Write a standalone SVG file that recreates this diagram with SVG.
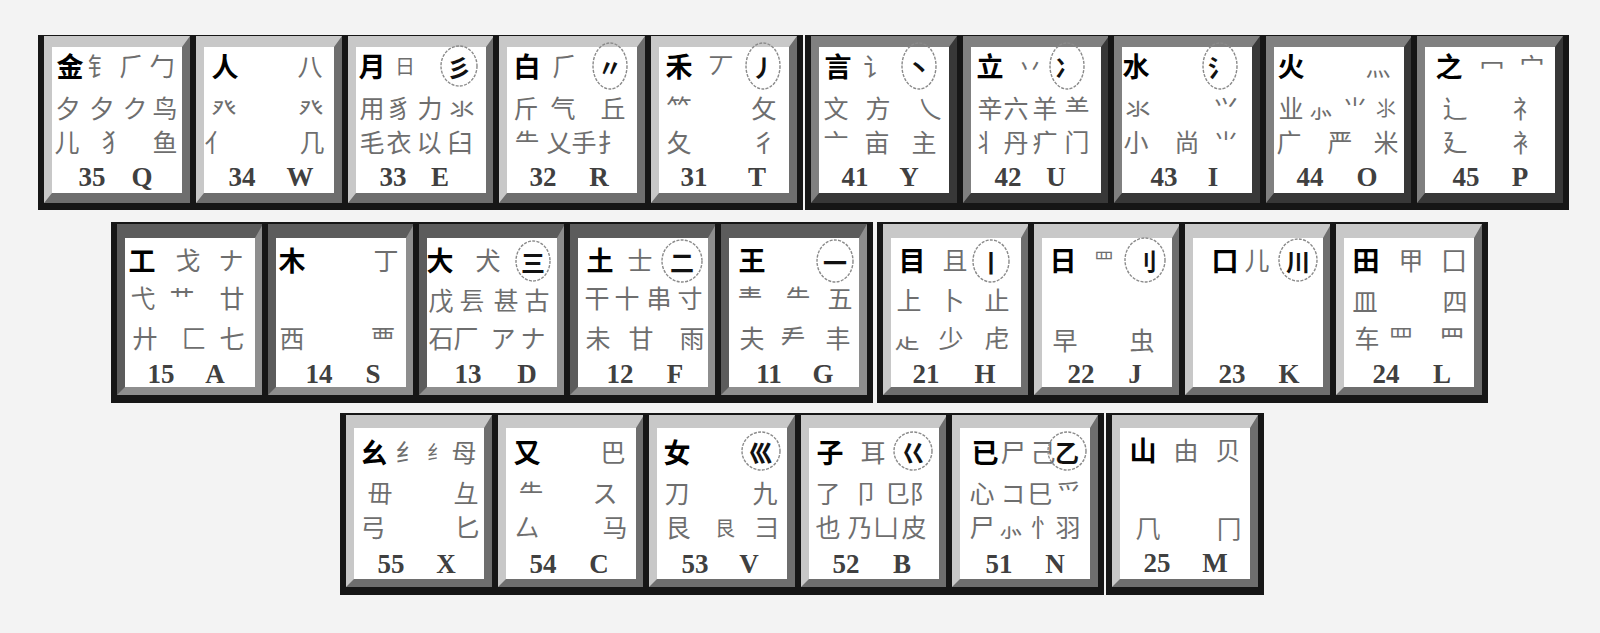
<svg xmlns="http://www.w3.org/2000/svg" xmlns:xlink="http://www.w3.org/1999/xlink" width="1600" height="633" viewBox="0 0 1600 633">
<style>
text{text-anchor:middle}
.m{font-family:"Noto Sans CJK SC",sans-serif;font-size:27px;font-weight:700;fill:#000;dominant-baseline:central}
.s{font-family:"Noto Sans CJK SC",sans-serif;font-size:25px;font-weight:400;fill:#6e6e6e;dominant-baseline:central}
.k{font-family:"Noto Sans CJK SC",sans-serif;font-size:24px;font-weight:700;fill:#111;dominant-baseline:central}
.n{font-family:"Liberation Serif",serif;font-size:27px;font-weight:700;fill:#404040}
.o{fill:none;stroke:#8a8a8a;stroke-width:1.4;stroke-dasharray:3 1.3}
.sm{font-size:20px}
</style>
<defs>
<g id="capR1"><rect width="158" height="175" fill="#161616"/><rect x="6" y="1" width="146" height="167" fill="#6e6e6e"/><polygon points="6,1 152,1 144,12 14,12 14,158 6,168" fill="#c8c8c8"/><rect x="14" y="12" width="130" height="146" fill="#fff"/></g>
<g id="capP1"><rect width="158" height="175" fill="#161616"/><rect x="6" y="1" width="146" height="167" fill="#383838"/><polygon points="6,1 152,1 144,12 14,12 14,158 6,168" fill="#808080"/><rect x="14" y="12" width="130" height="146" fill="#fff"/></g>
<g id="capP2"><rect width="158" height="181" fill="#161616"/><rect x="6" y="2" width="146" height="171" fill="#8e8e8e"/><polygon points="6,2 152,2 144,16 14,16 14,165 6,173" fill="#5c5c5c"/><rect x="14" y="16" width="130" height="149" fill="#fff"/></g>
<g id="capR2"><rect width="158" height="181" fill="#161616"/><rect x="6" y="2" width="146" height="171" fill="#6e6e6e"/><polygon points="6,2 152,2 144,16 14,16 14,165 6,173" fill="#c8c8c8"/><rect x="14" y="16" width="130" height="149" fill="#fff"/></g>
<g id="capR3"><rect width="158" height="182" fill="#161616"/><rect x="6" y="2" width="146" height="172" fill="#6e6e6e"/><polygon points="6,2 152,2 144,15 14,15 14,166 6,174" fill="#c8c8c8"/><rect x="14" y="15" width="130" height="151" fill="#fff"/></g>
</defs>
<rect width="1600" height="633" fill="#f3f3f3"/>

<!-- Row 1 -->
<g id="key-Q" transform="translate(38,35)"><use xlink:href="#capR1" href="#capR1"/>
<text class="m" x="32" y="30">金</text><text class="s" x="62" y="30">钅</text><text class="s" x="94" y="30">⺁</text><text class="s" x="124" y="30">勹</text>
<text class="s" x="30" y="72">夕</text><text class="s" x="64" y="72">夕</text><text class="s" x="97" y="72">ク</text><text class="s" x="127" y="72">鸟</text>
<text class="s" x="29" y="106">儿</text><text class="s" x="76" y="106">犭</text><text class="s" x="127" y="106">鱼</text>
<text class="n" x="54" y="151">35</text><text class="n" x="104" y="151">Q</text></g>

<g id="key-W" transform="translate(190,35)"><use xlink:href="#capR1" href="#capR1"/>
<text class="m" x="35" y="30">人</text><text class="s" x="120" y="30">八</text>
<text class="s" x="34" y="72">癶</text><text class="s" x="121" y="72">癶</text>
<text class="s" x="27" y="106">亻</text><text class="s" x="122" y="106">几</text>
<text class="n" x="52" y="151">34</text><text class="n" x="110" y="151">W</text></g>

<g id="key-E" transform="translate(342,35)"><use xlink:href="#capR1" href="#capR1"/>
<text class="m" x="30" y="30">月</text><text class="s sm" x="63" y="30">日</text>
<ellipse class="o" cx="117" cy="31" rx="18" ry="20"/><text class="k" x="117" y="31">彡</text>
<text class="s" x="30" y="72">用</text><text class="s" x="57" y="72">豸</text><text class="s" x="88" y="72">力</text><text class="s" x="120" y="72">氺</text>
<text class="s" x="30" y="106">毛</text><text class="s" x="57" y="106">衣</text><text class="s" x="87" y="106">以</text><text class="s" x="118" y="106">臼</text>
<text class="n" x="51" y="151">33</text><text class="n" x="98" y="151">E</text></g>

<g id="key-R" transform="translate(493,35)"><use xlink:href="#capR1" href="#capR1"/>
<text class="m" x="34" y="30">白</text><text class="s" x="72" y="30">⺁</text>
<ellipse class="o" cx="117" cy="31" rx="17" ry="23"/><text class="k" x="117" y="31">〃</text>
<text class="s" x="33" y="72">斤</text><text class="s" x="70" y="72">气</text><text class="s" x="120" y="72">丘</text>
<text class="s" x="34" y="106">⺧</text><text class="s" x="66" y="106">乂</text><text class="s" x="91" y="106">手</text><text class="s" x="117" y="106">扌</text>
<text class="n" x="50" y="151">32</text><text class="n" x="106" y="151">R</text></g>

<g id="key-T" transform="translate(645,35)"><use xlink:href="#capR1" href="#capR1"/>
<text class="m" x="34" y="30">禾</text><text class="s" x="76" y="30">丆</text>
<ellipse class="o" cx="118" cy="31" rx="17" ry="23"/><text class="k" x="118" y="31">丿</text>
<text class="s" x="34" y="72">⺮</text><text class="s" x="119" y="72">攵</text>
<text class="s" x="34" y="106">夂</text><text class="s" x="119" y="106">彳</text>
<text class="n" x="49" y="151">31</text><text class="n" x="112" y="151">T</text></g>

<g id="key-Y" transform="translate(805,35)"><use xlink:href="#capP1" href="#capP1"/>
<text class="m" x="33" y="30">言</text><text class="s" x="71" y="30">讠</text>
<ellipse class="o" cx="114" cy="31" rx="17" ry="23"/><text class="k" x="114" y="31">丶</text>
<text class="s" x="31" y="72">文</text><text class="s" x="73" y="72">方</text><text class="s" x="125" y="72">乀</text>
<text class="s" x="31" y="106">亠</text><text class="s" x="72" y="106">亩</text><text class="s" x="119" y="106">主</text>
<text class="n" x="50" y="151">41</text><text class="n" x="104" y="151">Y</text></g>

<g id="key-U" transform="translate(957,35)"><use xlink:href="#capP1" href="#capP1"/>
<text class="m" x="33" y="30">立</text><text class="s" x="73" y="30">丷</text>
<ellipse class="o" cx="110" cy="31" rx="17" ry="23"/><text class="k" x="110" y="31">冫</text>
<text class="s" x="33" y="72">辛</text><text class="s" x="59" y="72">六</text><text class="s" x="88" y="72">羊</text><text class="s" x="120" y="72">⺷</text>
<text class="s" x="28" y="106">丬</text><text class="s" x="59" y="106">丹</text><text class="s" x="88" y="106">疒</text><text class="s" x="120" y="106">门</text>
<text class="n" x="51" y="151">42</text><text class="n" x="99" y="151">U</text></g>

<g id="key-I" transform="translate(1108,35)"><use xlink:href="#capP1" href="#capP1"/>
<text class="m" x="28" y="30">水</text>
<ellipse class="o" cx="112" cy="31" rx="17" ry="23"/><text class="k" x="112" y="31">氵</text>
<text class="s" x="30" y="72">氺</text><text class="s" x="118" y="72">⺍</text>
<text class="s" x="28" y="106">小</text><text class="s" x="79" y="106">尚</text><text class="s" x="118" y="106">⺌</text>
<text class="n" x="56" y="151">43</text><text class="n" x="105" y="151">I</text></g>

<g id="key-O" transform="translate(1260,35)"><use xlink:href="#capP1" href="#capP1"/>
<text class="m" x="31" y="30">火</text><text class="s" x="118" y="30">灬</text>
<text class="s" x="31" y="72">业</text><text class="s" x="61" y="72">⺗</text><text class="s" x="95" y="72">⺌</text><text class="s sm" x="126" y="72">⺢</text>
<text class="s" x="29" y="106">广</text><text class="s" x="80" y="106">严</text><text class="s" x="126" y="106">米</text>
<text class="n" x="50" y="151">44</text><text class="n" x="107" y="151">O</text></g>

<g id="key-P" transform="translate(1411,35)"><use xlink:href="#capP1" href="#capP1"/>
<text class="m" x="38" y="30">之</text><text class="s" x="81" y="30">冖</text><text class="s" x="121" y="30">宀</text>
<text class="s" x="44" y="72">辶</text><text class="s" x="114" y="72">礻</text>
<text class="s" x="44" y="106">廴</text><text class="s" x="114" y="106">衤</text>
<text class="n" x="55" y="151">45</text><text class="n" x="109" y="151">P</text></g>

<!-- Row 2 -->
<g id="key-A" transform="translate(111,222)"><use xlink:href="#capP2" href="#capP2"/>
<text class="m" x="31" y="37">工</text><text class="s" x="77" y="37">戈</text><text class="s" x="120" y="37">ナ</text>
<text class="s" x="32" y="75">弋</text><text class="s" x="71" y="75">艹</text><text class="s" x="121" y="75">廿</text>
<text class="s" x="34" y="115">廾</text><text class="s" x="83" y="115">匚</text><text class="s" x="121" y="115">七</text>
<text class="n" x="50" y="161">15</text><text class="n" x="104" y="161">A</text></g>

<g id="key-S" transform="translate(262,222)"><use xlink:href="#capP2" href="#capP2"/>
<text class="m" x="30" y="37">木</text><text class="s" x="124" y="37">丁</text>
<text class="s" x="30" y="115">西</text><text class="s" x="121" y="115">覀</text>
<text class="n" x="57" y="161">14</text><text class="n" x="111" y="161">S</text></g>

<g id="key-D" transform="translate(413,222)"><use xlink:href="#capP2" href="#capP2"/>
<text class="m" x="27" y="37">大</text><text class="s" x="75" y="37">犬</text>
<ellipse class="o" cx="120" cy="39" rx="17" ry="20"/><text class="k" x="120" y="39">三</text>
<text class="s" x="28" y="77">戊</text><text class="s" x="59" y="77">镸</text><text class="s" x="93" y="77">甚</text><text class="s" x="124" y="77">古</text>
<text class="s" x="28" y="115">石</text><text class="s" x="53" y="115">厂</text><text class="s" x="90" y="115">ア</text><text class="s" x="120" y="115">ナ</text>
<text class="n" x="55" y="161">13</text><text class="n" x="114" y="161">D</text></g>

<g id="key-F" transform="translate(564,222)"><use xlink:href="#capP2" href="#capP2"/>
<text class="m" x="36" y="37">土</text><text class="s" x="76" y="37">士</text>
<ellipse class="o" cx="118" cy="39" rx="20" ry="21"/><text class="k" x="118" y="39">二</text>
<text class="s" x="33" y="75">干</text><text class="s" x="63" y="75">十</text><text class="s" x="95" y="75">串</text><text class="s" x="126" y="75">寸</text>
<text class="s" x="34" y="115">未</text><text class="s" x="77" y="115">甘</text><text class="s" x="128" y="115">雨</text>
<text class="n" x="56" y="161">12</text><text class="n" x="111" y="161">F</text></g>

<g id="key-G" transform="translate(715,222)"><use xlink:href="#capP2" href="#capP2"/>
<text class="m" x="37" y="37">王</text>
<ellipse class="o" cx="120" cy="39" rx="18" ry="21"/><text class="k" x="120" y="39">一</text>
<text class="s" x="35" y="75">龶</text><text class="s" x="83" y="75">⺧</text><text class="s" x="125" y="75">五</text>
<text class="s" x="37" y="115">夫</text><text class="s" x="78" y="115">龵</text><text class="s" x="123" y="115">丰</text>
<text class="n" x="54" y="161">11</text><text class="n" x="108" y="161">G</text></g>

<g id="key-H" transform="translate(877,222)"><use xlink:href="#capR2" href="#capR2"/>
<text class="m" x="35" y="37">目</text><text class="s" x="78" y="37">且</text>
<ellipse class="o" cx="114" cy="39" rx="18" ry="21"/><text class="k" x="114" y="39">丨</text>
<text class="s" x="32" y="77">上</text><text class="s" x="75" y="77">卜</text><text class="s" x="120" y="77">止</text>
<text class="s" x="30" y="115">龰</text><text class="s" x="74" y="115">少</text><text class="s" x="120" y="115">虍</text>
<text class="n" x="49" y="161">21</text><text class="n" x="108" y="161">H</text></g>

<g id="key-J" transform="translate(1028,222)"><use xlink:href="#capR2" href="#capR2"/>
<text class="m" x="35" y="37">日</text><text class="s sm" x="76" y="37">罒</text>
<ellipse class="o" cx="117" cy="38" rx="20" ry="22"/><text class="k" x="117" y="38">刂</text>
<text class="s" x="37" y="117">早</text><text class="s" x="114" y="117">虫</text>
<text class="n" x="53" y="161">22</text><text class="n" x="107" y="161">J</text></g>

<g id="key-K" transform="translate(1179,222)"><use xlink:href="#capR2" href="#capR2"/>
<text class="m" x="46" y="37">口</text><text class="s" x="78" y="37">儿</text>
<ellipse class="o" cx="119" cy="38" rx="19" ry="21"/><text class="k" x="119" y="38">川</text>
<text class="n" x="53" y="161">23</text><text class="n" x="110" y="161">K</text></g>

<g id="key-L" transform="translate(1330,222)"><use xlink:href="#capR2" href="#capR2"/>
<text class="m" x="36" y="37">田</text><text class="s" x="81" y="37">甲</text><text class="s" x="124" y="37">囗</text>
<text class="s" x="35" y="78">皿</text><text class="s" x="125" y="78">四</text>
<text class="s" x="37" y="115">车</text><text class="s" x="71" y="115">罒</text><text class="s" x="122" y="115">⺲</text>
<text class="n" x="56" y="161">24</text><text class="n" x="112" y="161">L</text></g>

<!-- Row 3 -->
<g id="key-X" transform="translate(340,413)"><use xlink:href="#capR3" href="#capR3"/>
<text class="m" x="34" y="38">幺</text><text class="s" x="68" y="38">⺰</text><text class="s sm" x="97" y="38">纟</text><text class="s" x="124" y="38">母</text>
<text class="s" x="40" y="79">毌</text><text class="s" x="126" y="79">彑</text>
<text class="s" x="33" y="113">弓</text><text class="s" x="127" y="113">匕</text>
<text class="n" x="51" y="160">55</text><text class="n" x="106" y="160">X</text></g>

<g id="key-C" transform="translate(492,413)"><use xlink:href="#capR3" href="#capR3"/>
<text class="m" x="35" y="38">又</text><text class="s" x="121" y="38">巴</text>
<text class="s" x="39" y="79">⺧</text><text class="s" x="113" y="79">ス</text>
<text class="s" x="35" y="113">厶</text><text class="s" x="123" y="113">马</text>
<text class="n" x="51" y="160">54</text><text class="n" x="107" y="160">C</text></g>

<g id="key-V" transform="translate(643,413)"><use xlink:href="#capR3" href="#capR3"/>
<text class="m" x="34" y="38">女</text>
<ellipse class="o" cx="118" cy="38" rx="19" ry="19"/><text class="k" x="118" y="38">巛</text>
<text class="s" x="34" y="79">刀</text><text class="s" x="122" y="79">九</text>
<text class="s" x="35" y="113">艮</text><text class="s sm" x="82" y="114">艮</text><text class="s" x="124" y="113">彐</text>
<text class="n" x="52" y="160">53</text><text class="n" x="106" y="160">V</text></g>

<g id="key-B" transform="translate(795,413)"><use xlink:href="#capR3" href="#capR3"/>
<text class="m" x="35" y="38">子</text><text class="s" x="78" y="38">耳</text>
<ellipse class="o" cx="118" cy="38" rx="19" ry="19"/><text class="k" x="118" y="38">巜</text>
<text class="s" x="33" y="79">了</text><text class="s" x="71" y="79">卩</text><text class="s" x="102" y="79">㔾</text><text class="s" x="127" y="79">阝</text>
<text class="s" x="33" y="113">也</text><text class="s" x="65" y="113">乃</text><text class="s" x="91" y="113">凵</text><text class="s" x="119" y="113">皮</text>
<text class="n" x="51" y="160">52</text><text class="n" x="107" y="160">B</text></g>

<g id="key-N" transform="translate(946,413)"><use xlink:href="#capR3" href="#capR3"/>
<text class="m" x="39" y="38">已</text><text class="s" x="67" y="38">尸</text><text class="s" x="97" y="38">己</text>
<ellipse class="o" cx="121" cy="38" rx="19" ry="19"/><text class="k" x="121" y="38">乙</text>
<text class="s" x="36" y="79">心</text><text class="s" x="67" y="79">コ</text><text class="s" x="94" y="79">巳</text><text class="s" x="123" y="79">爫</text>
<text class="s" x="36" y="113">尸</text><text class="s" x="65" y="113">⺗</text><text class="s" x="97" y="113">忄</text><text class="s" x="122" y="113">羽</text>
<text class="n" x="53" y="160">51</text><text class="n" x="109" y="160">N</text></g>

<g id="key-M" transform="translate(1106,413)"><use xlink:href="#capR3" href="#capR3"/>
<text class="m" x="37" y="36">山</text><text class="s" x="80" y="36">由</text><text class="s" x="122" y="36">贝</text>
<text class="s" x="42" y="114">⺇</text><text class="s" x="123" y="114">冂</text>
<text class="n" x="51" y="159">25</text><text class="n" x="109" y="159">M</text></g>

<g id="connectors"/>
</svg>
